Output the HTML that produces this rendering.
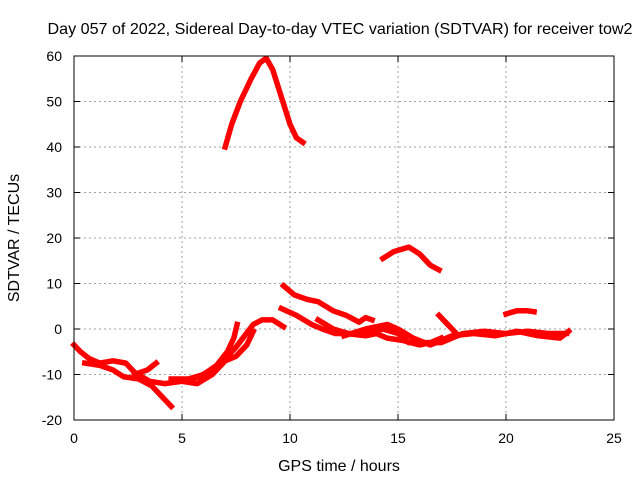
<!DOCTYPE html>
<html><head><meta charset="utf-8"><style>
body{margin:0;background:#fff}
svg text{font-family:"Liberation Sans",sans-serif;font-size:14px;fill:#000}
svg text.big{font-size:16px}
</style></head><body>
<svg width="640" height="480">
<text class="big" x="340" y="34" text-anchor="middle" textLength="585" lengthAdjust="spacingAndGlyphs">Day 057 of 2022, Sidereal Day-to-day VTEC variation (SDTVAR) for receiver tow2</text>
<text class="big" x="339" y="471" text-anchor="middle">GPS time / hours</text>
<text class="big" transform="translate(19,238) rotate(-90)" text-anchor="middle">SDTVAR / TECUs</text>
<g id="grid"></g><g id="axes"></g><g id="data"></g>
<rect x="74" y="56" width="540" height="364" fill="none" stroke="#000" stroke-width="1"/>
</svg>
<script>
const xTicks=[0,5,10,15,20,25];
const yTicks=[-20,-10,0,10,20,30,40,50,60];
const seriesArc=[[7.0,40],[7.3,45],[7.7,50],[8.2,55],[8.6,58.5],[8.9,59.5],[9.2,57],[9.6,51],[10.0,45],[10.3,42],[10.6,41]];
const seriesHump=[[14.3,15.5],[14.8,17],[15.5,18],[16.0,16.5],[16.5,14],[16.9,13]];
const seriesLate=[[20.0,3.3],[20.5,4],[21.0,4],[21.3,3.8]];
const seriesD=[[0,-3.5],[0.3,-5],[0.7,-6.5],[1.2,-7.5],[1.8,-7],[2.4,-7.5],[2.8,-9.5],[3.5,-11.5],[4.2,-12],[5,-11.5],[5.8,-10.5],[6.5,-8.5],[7.0,-6.5],[7.5,-4],[7.9,-1.5],[8.3,1],[8.7,2],[9.2,2],[9.7,0.5]];
const seriesE=[[0.5,-7.5],[1.2,-8],[1.8,-9],[2.3,-10.5],[3.0,-11],[3.6,-12.5],[4.0,-14.5],[4.5,-17]];
const seriesF=[[2.8,-10],[3.4,-9],[3.8,-7.5]];
const seriesG=[[4.5,-11],[5.3,-11],[6,-10],[6.6,-8],[7.1,-5],[7.4,-2],[7.55,1]];
const seriesH=[[5,-11.5],[5.7,-12],[6.4,-10],[7.0,-7],[7.5,-6],[8.0,-3.5],[8.3,-0.5]];
const seriesI=[[9.7,9.5],[10.2,7.5],[10.8,6.5],[11.3,6],[12,4],[12.6,3],[13.2,1.5],[13.5,2.5],[13.8,2]];
const seriesJ=[[9.6,4.5],[10.3,3],[11,1],[11.5,0],[12.1,-1],[12.6,-1],[13.5,-1.5],[14.0,-1],[14.5,-2],[15.2,-2.5],[16,-3.5],[16.5,-3],[17,-2]];
const seriesK=[[11.3,2],[12,0],[12.7,-1],[13.5,-1],[14.3,0],[15,-1],[15.5,-3],[16,-3],[17,-3],[18,-1],[19,-0.5],[20,-1],[21,-0.5],[22,-1],[22.8,-1]];
const seriesL=[[12.5,-1.5],[13.5,0],[14.5,1],[15,0],[15.7,-2],[16.5,-3.5],[17.5,-1.5],[18.5,-1],[19.5,-1.5],[20.5,-0.5],[21.5,-1.5],[22.5,-2],[22.9,-0.5]];
const seriesM=[[16.9,3],[17.3,1],[17.7,-1]];
const allSeries=[seriesArc,seriesHump,seriesLate,seriesD,seriesE,seriesF,seriesG,seriesH,seriesI,seriesJ,seriesK,seriesL,seriesM];
const NS="http://www.w3.org/2000/svg";
const X=h=>74+h*540/25, Y=v=>420-(v+20)*364/80;
const grid=document.getElementById('grid'),axes=document.getElementById('axes'),data=document.getElementById('data');
function mk(tag,attrs,parent){const e=document.createElementNS(NS,tag);for(const k in attrs)e.setAttribute(k,attrs[k]);parent.appendChild(e);return e;}
xTicks.forEach(t=>{const x=X(t);
 if(t>0&&t<25){const g=mk('line',{x1:x,x2:x,y1:56,y2:420,stroke:'#a0a0a0','stroke-dasharray':'2,3'},grid);
 
 }
 mk('line',{x1:x,x2:x,y1:420,y2:414,stroke:'#000'},axes);mk('line',{x1:x,x2:x,y1:56,y2:62,stroke:'#000'},axes);
 const tx=mk('text',{x:x,y:443,'text-anchor':'middle'},axes);tx.textContent=t;
 
 });
yTicks.forEach(t=>{const y=Y(t);
 if(t>-20&&t<60){const g=mk('line',{x1:74,x2:614,y1:y,y2:y,stroke:'#a0a0a0','stroke-dasharray':'2,3'},grid);
 
 }
 mk('line',{x1:74,x2:80,y1:y,y2:y,stroke:'#000'},axes);mk('line',{x1:614,x2:608,y1:y,y2:y,stroke:'#000'},axes);
 const tx=mk('text',{x:62,y:y+5,'text-anchor':'end'},axes);tx.textContent=t;
 
 });
allSeries.forEach((s,i)=>{const p=mk('polyline',{points:s.map(d=>X(d[0])+','+Y(d[1])).join(' '),fill:'none',stroke:'#ff0000','stroke-width':5.5,'stroke-linejoin':'round','stroke-linecap':'square'},data);
 
 });
</script>
</body></html>
